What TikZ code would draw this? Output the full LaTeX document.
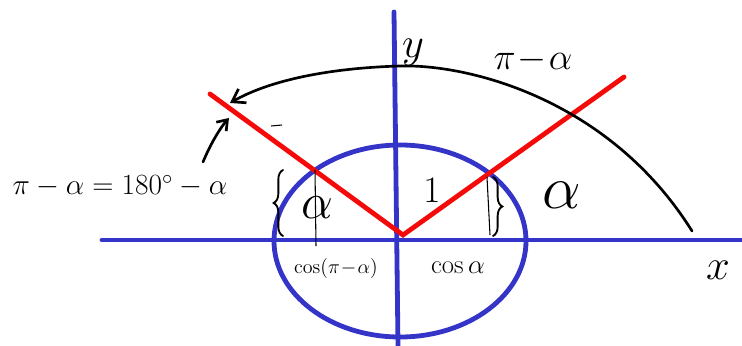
\RequirePackage{fix-cm}
\documentclass[tikz,border=0pt]{standalone}
\usetikzlibrary{arrows.meta,decorations.pathreplacing}
\definecolor{axisblue}{RGB}{52,52,200}
\definecolor{rayred}{RGB}{245,10,10}
\begin{document}
\begin{tikzpicture}[x=0.75pt,y=-0.75pt,
  axis/.style={axisblue,line width=3.6pt,line cap=round},
  ray/.style={rayred,line width=3.6pt,line cap=round},
  pen/.style={black,line width=2pt,line cap=round},
  thin pen/.style={black,line width=0.8pt},
  lbl/.style={inner sep=0pt}]
\useasboundingbox (0,0) rectangle (742,346);
% unit circle
\coordinate (O) at (400,241);
\draw[axisblue,line width=3.6pt] (O) ellipse [x radius=126, y radius=96];
% axes
\coordinate (xl) at (102,240);
\coordinate (xr) at (742,240);
\coordinate (yt) at (394,12);
\coordinate (yb) at (398,346);
\draw[axis] (xl) -- (xr);
\draw[axis] (yt) -- (yb);
% rays
\coordinate (V) at (403,235);
\coordinate (R) at (624,77);
\coordinate (L) at (210,94);
\draw[ray] (L) -- (V) -- (R);
% big arc
\coordinate (arcS) at (692,231);
\coordinate (arcE) at (230,103);
\draw[pen,-{Straight Barb[length=9pt,width=12pt]}] (arcS) .. controls (610,100) and (470,64) .. (400,66) .. controls (330,68) and (270,80) .. (arcE);
% labels
\node[lbl] (ylab) at (413,52) {\fontsize{32}{34}\selectfont $y$};
\node[lbl] (xlab) at (718,270) {\fontsize{32}{34}\selectfont $x$};
\node[lbl] (pa) at (533,60) {\fontsize{28}{30}\selectfont $\pi\!-\!\alpha$};
\node[lbl] (one) at (432,190) {\fontsize{28}{30}\selectfont $1$};
\node[lbl] (ar) at (562,195) {\fontsize{46}{48}\selectfont $\alpha$};
\node[lbl] (al) at (317,208) {\fontsize{38}{40}\selectfont $\alpha$};
\node[lbl] (cosa) at (458,268) {\fontsize{20}{22}\selectfont $\cos\alpha$};
\node[lbl] (cospa) at (336,268) {\fontsize{15}{17}\selectfont $\cos(\pi\!-\!\alpha)$};
\node[lbl] (eq) at (120,186) {\fontsize{22}{24}\selectfont $\pi-\alpha=180^{\circ}-\alpha$};
% small pointer arrow
\coordinate (pt) at (229,118);
\draw[pen,-{Straight Barb[length=7pt,width=10pt]}] (203,162) .. controls (210,145) and (220,128) .. (pt);
% tick mark
\coordinate (t1) at (271,126);
\coordinate (t2) at (282,125);
\draw[thin pen] (t1) -- (t2);
% projection lines
\coordinate (pl1) at (315,170);
\coordinate (pl2) at (316,246);
\draw[thin pen] (pl1) -- (pl2);
\coordinate (pr1) at (487,177);
\coordinate (pr2) at (490,235);
\draw[thin pen] (pr1) -- (pr2);
% braces
\coordinate (bl1) at (283,236);
\coordinate (bl2) at (283,170);
\draw[pen,line width=1.4pt,decorate,decoration={brace,amplitude=7pt}] (bl1) -- (bl2);
\coordinate (br1) at (493,177);
\coordinate (br2) at (493,236);
\draw[pen,line width=1.4pt,decorate,decoration={brace,amplitude=7pt}] (br1) -- (br2);
\end{tikzpicture}
\end{document}
